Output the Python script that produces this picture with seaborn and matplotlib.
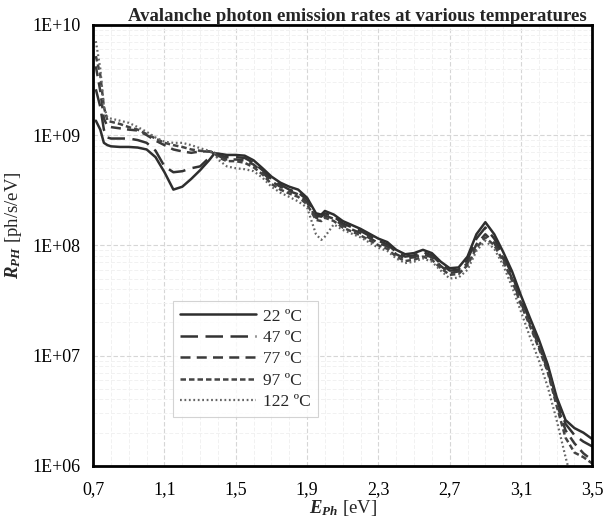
import numpy as np
import pandas as pd
import matplotlib
matplotlib.use("Agg")
import matplotlib.pyplot as plt
import seaborn as sns
from matplotlib.ticker import FixedLocator, LogLocator, FuncFormatter, NullFormatter

# photon energy [eV]
e_ph = [0.715, 0.74, 0.76, 0.78, 0.80, 0.85, 0.90, 0.95, 1.00, 1.05, 1.10, 1.15, 1.20,
        1.25, 1.30, 1.35, 1.38, 1.40, 1.45, 1.50, 1.55, 1.60, 1.65, 1.70, 1.75, 1.80,
        1.85, 1.90, 1.95, 1.98, 2.00, 2.05, 2.10, 2.20, 2.30, 2.35, 2.40, 2.45, 2.50,
        2.55, 2.60, 2.65, 2.70, 2.75, 2.80, 2.85, 2.90, 2.95, 3.00, 3.05, 3.10, 3.15,
        3.20, 3.25, 3.30, 3.35, 3.40, 3.45, 3.50]

# emission rates [ph/s/eV]
r_22 = [1.35e9, 1.12e9, 8.5e8, 8.1e8, 7.9e8, 7.8e8, 7.8e8, 7.7e8, 7.4e8, 6.3e8, 4.6e8, 3.2e8, 3.4e8,
        4.0e8, 4.8e8, 5.9e8, 6.8e8, 6.8e8, 6.6e8, 6.6e8, 6.5e8, 5.9e8, 5.0e8, 4.2e8, 3.7e8, 3.4e8,
        3.2e8, 2.7e8, 1.95e8, 1.9e8, 2.05e8, 1.9e8, 1.66e8, 1.41e8, 1.15e8, 1.07e8, 9.1e7, 8.3e7, 8.5e7,
        9.1e7, 8.5e7, 7.1e7, 6.2e7, 6.3e7, 7.9e7, 1.26e8, 1.62e8, 1.26e8, 8.7e7, 5.8e7, 3.5e7, 2.2e7,
        1.4e7, 8.3e6, 4.2e6, 2.6e6, 2.2e6, 2.0e6, 1.75e6]
r_47 = [2.6e9, 1.8e9, 1.12e9, 9.5e8, 9.3e8, 9.3e8, 9.3e8, 9.0e8, 8.5e8, 7.2e8, 5.2e8, 4.6e8, 4.7e8,
        5.0e8, 5.2e8, 6.2e8, 6.9e8, 6.6e8, 6.3e8, 6.3e8, 6.2e8, 5.6e8, 4.8e8, 4.0e8, 3.55e8, 3.2e8,
        3.0e8, 2.6e8, 1.86e8, 1.82e8, 1.95e8, 1.82e8, 1.58e8, 1.35e8, 1.10e8, 1.02e8, 8.7e7, 7.9e7, 8.1e7,
        8.7e7, 8.1e7, 6.8e7, 5.9e7, 6.0e7, 7.4e7, 1.15e8, 1.45e8, 1.15e8, 8.1e7, 5.4e7, 3.2e7, 2.1e7,
        1.32e7, 7.9e6, 4.0e6, 2.4e6, 1.9e6, 1.66e6, 1.5e6]
r_77 = [4.2e9, 2.5e9, 1.41e9, 1.2e9, 1.18e9, 1.15e9, 1.12e9, 1.1e9, 1.0e9, 8.9e8, 8.1e8, 7.4e8, 7.1e8,
        6.9e8, 7.1e8, 7.1e8, 6.9e8, 6.5e8, 6.0e8, 6.0e8, 5.9e8, 5.4e8, 4.6e8, 3.8e8, 3.4e8, 3.1e8,
        2.9e8, 2.45e8, 1.78e8, 1.74e8, 1.86e8, 1.74e8, 1.51e8, 1.29e8, 1.05e8, 9.8e7, 8.3e7, 7.6e7, 7.8e7,
        8.3e7, 7.8e7, 6.5e7, 5.6e7, 5.8e7, 6.9e7, 1.02e8, 1.26e8, 1.05e8, 7.6e7, 5.0e7, 3.0e7, 1.95e7,
        1.23e7, 7.4e6, 3.7e6, 2.1e6, 1.6e6, 1.3e6, 1.12e6]
r_97 = [5.2e9, 3.5e9, 1.8e9, 1.35e9, 1.32e9, 1.26e9, 1.18e9, 1.12e9, 1.02e9, 9.3e8, 8.5e8, 8.1e8, 7.8e8,
        7.4e8, 7.2e8, 7.1e8, 6.9e8, 6.3e8, 5.8e8, 5.8e8, 5.6e8, 5.1e8, 4.4e8, 3.6e8, 3.2e8, 2.95e8,
        2.75e8, 2.35e8, 1.7e8, 1.66e8, 1.78e8, 1.66e8, 1.45e8, 1.23e8, 1.0e8, 9.3e7, 7.9e7, 7.2e7, 7.4e7,
        7.9e7, 7.4e7, 6.2e7, 5.4e7, 5.5e7, 6.6e7, 9.5e7, 1.18e8, 1.0e8, 7.2e7, 4.8e7, 2.9e7, 1.86e7,
        1.17e7, 7.1e6, 3.5e6, 1.8e6, 1.32e6, 1.2e6, 1.05e6]
r_122 = [7.1e9, 4.0e9, 1.8e9, 1.45e9, 1.41e9, 1.35e9, 1.29e9, 1.18e9, 1.07e9, 9.5e8, 8.7e8, 8.5e8, 8.5e8,
         8.1e8, 7.6e8, 7.2e8, 6.9e8, 6.0e8, 5.2e8, 5.0e8, 4.9e8, 4.7e8, 4.1e8, 3.4e8, 3.0e8, 2.75e8,
         2.5e8, 2.2e8, 1.26e8, 1.12e8, 1.2e8, 1.55e8, 1.38e8, 1.18e8, 9.5e7, 8.9e7, 7.6e7, 6.9e7, 7.1e7,
         7.6e7, 7.1e7, 5.9e7, 5.0e7, 5.1e7, 6.0e7, 8.9e7, 1.1e8, 9.3e7, 6.6e7, 4.2e7, 2.5e7, 1.48e7,
         9.1e6, 5.2e6, 2.6e6, 1.2e6, 6.0e5, np.nan, np.nan]

labels = ["22 ºC", "47 ºC", "77 ºC", "97 ºC", "122 ºC"]
series = [r_22, r_47, r_77, r_97, r_122]
colors = ["#2e2e2e", "#333333", "#3a3a3a", "#444444", "#666666"]
styles = ["-", (0, (7, 3)), (0, (4, 2.5)), (0, (2.2, 1.2)), (0, (0.8, 1.2))]
widths = [1.8, 1.8, 1.8, 1.8, 1.6]

sns.set_style("white")
plt.rcParams["font.family"] = ["Liberation Serif", "DejaVu Serif"]
plt.rcParams["mathtext.fontset"] = "custom"
plt.rcParams["mathtext.rm"] = "Liberation Serif"
plt.rcParams["mathtext.it"] = "Liberation Serif:italic"
plt.rcParams["mathtext.bf"] = "Liberation Serif:bold"
plt.rcParams["mathtext.bfit"] = "Liberation Serif:italic:bold"

fig = plt.figure(figsize=(6.05, 5.27), dpi=100)
fig.subplots_adjust(left=0.154, right=0.979, top=0.953, bottom=0.116)
ax = fig.add_subplot(111)

for lab, vals, c, ls, lw in zip(labels, series, colors, styles, widths):
    df = pd.DataFrame({"E": e_ph, "R": vals})
    sns.lineplot(data=df, x="E", y="R", ax=ax, color=c, linestyle=ls, linewidth=lw,
                 label=lab, sort=False, errorbar=None)

ax.set_yscale("log")
ax.set_xlim(0.7, 3.5)
ax.set_ylim(1e6, 1e10)

ax.xaxis.set_major_locator(FixedLocator([0.7, 1.1, 1.5, 1.9, 2.3, 2.7, 3.1, 3.5]))
ax.xaxis.set_minor_locator(FixedLocator(np.arange(0.8, 3.45, 0.1)))
ax.xaxis.set_major_formatter(FuncFormatter(lambda v, p: f"{v:.1f}".replace(".", ",")))
ax.yaxis.set_major_locator(LogLocator(base=10, numticks=10))
ax.yaxis.set_minor_locator(LogLocator(base=10, subs=np.arange(2, 10), numticks=20))
ax.yaxis.set_major_formatter(FuncFormatter(lambda v, p: f"1E+{int(round(np.log10(v))):02d}"))
ax.yaxis.set_minor_formatter(NullFormatter())

ax.grid(which="major", color="#d6d6d6", linestyle=(0, (4, 2)), linewidth=0.8)
ax.grid(which="minor", color="#f1f1f1", linestyle=(0, (4, 2)), linewidth=0.7)
ax.set_axisbelow(True)

for s in ax.spines.values():
    s.set_color("black")
    s.set_linewidth(2.0)

ax.tick_params(axis="x", which="major", direction="inout", length=8, width=1.5,
               labelsize=13, pad=7, colors="black")
ax.tick_params(axis="x", which="minor", direction="inout", length=5, width=1.2)
ax.tick_params(axis="y", which="major", direction="inout", length=8, width=1.5,
               labelsize=13, pad=5, colors="black")
ax.tick_params(axis="y", which="minor", direction="in", length=4, width=1.2)

ax.set_xlabel(r"$\mathbfit{E}_{\mathbfit{Ph}}$ [eV]", fontsize=13.5, labelpad=0)
ax.set_ylabel(r"$\mathbfit{R}_{\mathbfit{PH}}$ [ph/s/eV]", fontsize=13.5)
ax.yaxis.set_label_coords(-0.138, 0.545)
ax.set_title("Avalanche photon emission rates at various temperatures",
             fontsize=13.5, fontweight="bold", pad=3, x=0.53)

leg = ax.legend(loc="lower left", bbox_to_anchor=(0.16, 0.111), fontsize=12.5,
                handlelength=4.4, frameon=True, fancybox=False, borderpad=0.4,
                labelspacing=0.3, handletextpad=0.4, borderaxespad=0)
leg.get_frame().set_edgecolor("#c8c8c8")
leg.get_frame().set_linewidth(0.8)

fig.savefig("out.png", dpi=100)
